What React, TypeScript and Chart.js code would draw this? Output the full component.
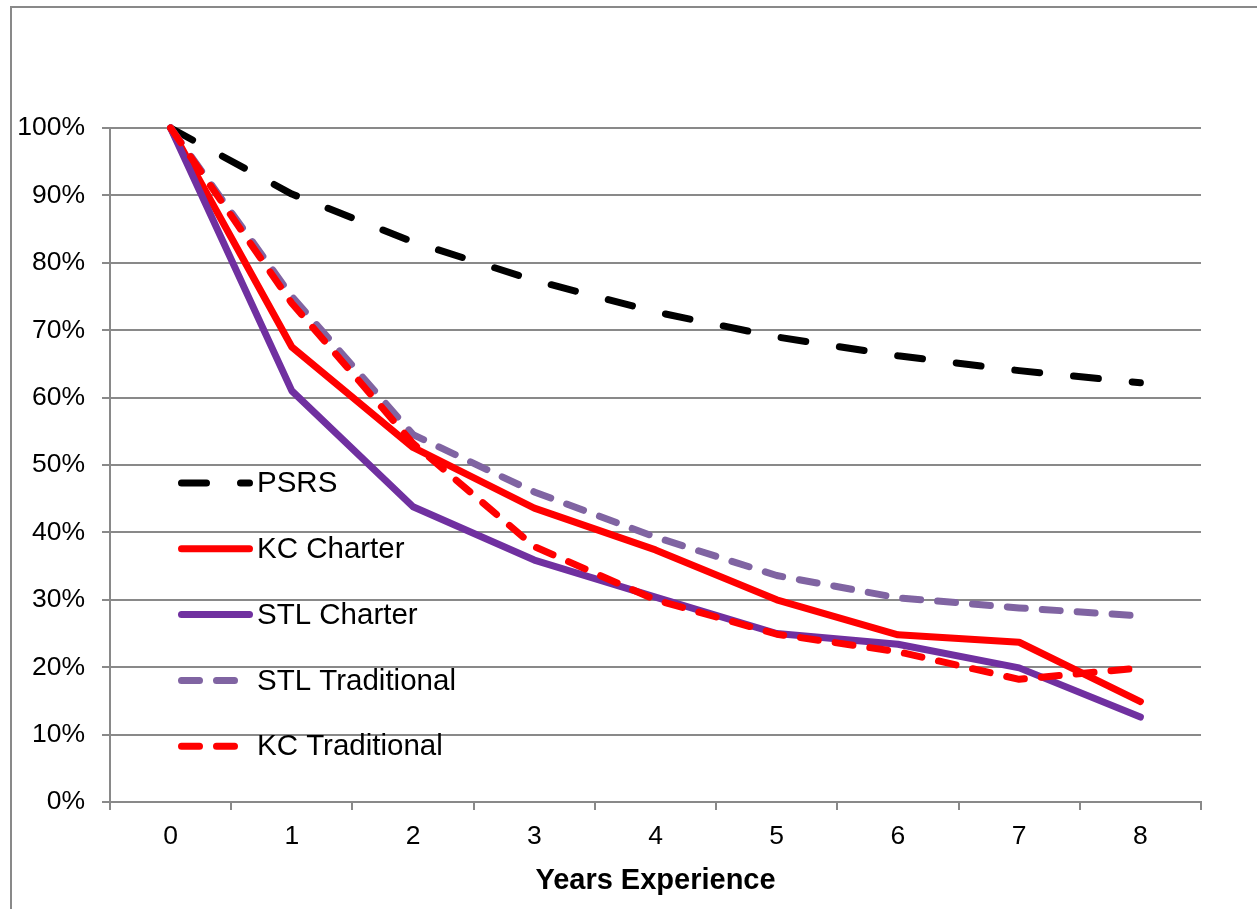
import { useEffect, useRef } from 'react';
import { Chart, registerables } from 'chart.js';

Chart.register(...registerables);

// Share of teachers still in place, by years of experience (percent)
const years = ['0', '1', '2', '3', '4', '5', '6', '7', '8'];
const psrs = [100, 90.2, 83.1, 77.4, 72.7, 69.0, 66.2, 64.0, 62.2];
const kcCharter = [100, 67.5, 52.6, 43.6, 37.4, 30.0, 24.8, 23.7, 14.9];
const stlCharter = [100, 61.0, 43.8, 35.9, 30.4, 25.0, 23.4, 19.9, 12.6];
const stlTraditional = [100, 75.0, 54.5, 46.0, 39.3, 33.6, 30.3, 28.8, 27.6];
const kcTraditional = [100, 74.0, 53.2, 37.9, 30.0, 24.9, 22.3, 18.2, 19.9];

const seriesNames = ['PSRS', 'KC Charter', 'STL Charter', 'STL Traditional', 'KC Traditional'];
const yTickStep = 10;
const xTitle = 'Years Experience';

const FONT = '"Liberation Sans", Arial, Helvetica, sans-serif';
const GRID = '#898989';
const LINE_W = 7;

// Legend drawn inside the plot area, one row per series
const insideLegend = {
  id: 'insideLegend',
  afterDatasetsDraw(chart: any) {
    const ctx = chart.ctx as CanvasRenderingContext2D;
    const top = 483;
    const step = 65.8;
    chart.data.datasets.forEach((ds: any, i: number) => {
      const y = top + i * step;
      ctx.save();
      ctx.strokeStyle = ds.borderColor;
      ctx.lineWidth = ds.borderWidth;
      ctx.lineCap = 'round';
      ctx.setLineDash(ds.borderDash || []);
      ctx.beginPath();
      ctx.moveTo(181.5, y);
      ctx.lineTo(249.5, y);
      ctx.stroke();
      ctx.setLineDash([]);
      ctx.fillStyle = '#000';
      ctx.font = `29.5px ${FONT}`;
      ctx.textBaseline = 'middle';
      ctx.textAlign = 'left';
      ctx.fillText(ds.label, 257, y + 1);
      ctx.restore();
    });
  },
};

export default function App() {
  const canvasRef = useRef<HTMLCanvasElement | null>(null);

  useEffect(() => {
    if (!canvasRef.current) return;
    const common = {
      borderWidth: LINE_W,
      pointRadius: 0,
      pointHoverRadius: 0,
      tension: 0,
      fill: false,
      borderCapStyle: 'round' as const,
      borderJoinStyle: 'round' as const,
      clip: false as const,
    };
    const chart = new Chart(canvasRef.current, {
      type: 'line',
      data: {
        labels: years,
        datasets: [
          { ...common, label: seriesNames[0], data: psrs, borderColor: '#000000', borderDash: [25, 34], order: 5 },
          { ...common, label: seriesNames[1], data: kcCharter, borderColor: '#FF0000', order: 4 },
          { ...common, label: seriesNames[2], data: stlCharter, borderColor: '#7030A0', order: 3 },
          { ...common, label: seriesNames[3], data: stlTraditional, borderColor: '#8064A2', borderDash: [18, 17], order: 2 },
          { ...common, label: seriesNames[4], data: kcTraditional, borderColor: '#FF0000', borderDash: [18, 17], order: 1 },
        ],
      },
      options: {
        responsive: false,
        animation: false,
        devicePixelRatio: 1,
        layout: { padding: { top: 128, right: 56, left: 0, bottom: 0 } },
        plugins: {
          legend: { display: false },
          tooltip: { enabled: false },
          title: { display: false },
        },
        scales: {
          x: {
            offset: true,
            grid: {
              offset: true,
              drawOnChartArea: false,
              drawTicks: true,
              tickLength: 8,
              color: GRID,
              lineWidth: 2,
            },
            border: { color: GRID, width: 2 },
            ticks: {
              color: '#000',
              font: { family: FONT, size: 26.5 },
              padding: 11,
              maxRotation: 0,
            },
            title: {
              display: true,
              text: xTitle,
              color: '#000',
              font: { family: FONT, size: 29, weight: 'bold' },
              padding: { top: 0, bottom: 11 },
            },
            afterFit: (s: any) => {
              s.height = 107;
            },
          },
          y: {
            min: 0,
            max: 100,
            ticks: {
              stepSize: yTickStep,
              callback: (v: any) => `${v}%`,
              color: '#000',
              font: { family: FONT, size: 26.5 },
              padding: 17,
            },
            grid: { color: GRID, lineWidth: 2, tickLength: 8 },
            border: { color: GRID, width: 2 },
            afterFit: (s: any) => {
              s.width = 110;
            },
          },
        },
      },
      plugins: [insideLegend],
    });
    return () => chart.destroy();
  }, []);

  return (
    <div
      style={{
        position: 'fixed',
        left: 0,
        top: 0,
        width: 1257,
        height: 909,
        overflow: 'hidden',
        background: '#fff',
      }}
    >
      <div
        style={{
          position: 'absolute',
          left: 10,
          top: 6,
          width: 1400,
          height: 1200,
          borderLeft: `2px solid ${GRID}`,
          borderTop: `2px solid ${GRID}`,
        }}
      />
      <canvas
        ref={canvasRef}
        width={1257}
        height={909}
        style={{ position: 'absolute', left: 0, top: 0, width: 1257, height: 909 }}
      />
    </div>
  );
}
